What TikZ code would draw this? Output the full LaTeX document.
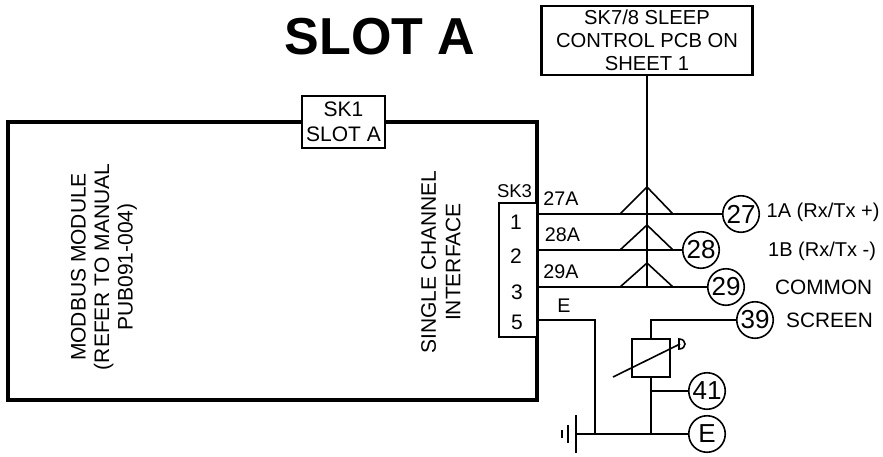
\documentclass[tikz,border=0pt]{standalone}
\usepackage{fontspec}
\setmainfont{Liberation Sans}
\begin{document}
\begin{tikzpicture}[x=1pt,y=-1pt,
  thick line/.style={line width=3.2pt},
  termbox/.style={draw,line width=1.5pt,fill=white,inner sep=0pt,align=center},
  wire/.style={line width=1.6pt},
  callout/.style={draw,circle,line width=1.6pt,fill=white,minimum size=36.5pt,inner sep=0pt,font=\fontsize{26}{26}\selectfont},
  lbl/.style={inner sep=0pt,font=\fontsize{19.7}{21}\selectfont},
  pin/.style={inner sep=0pt,font=\fontsize{21}{21}\selectfont},
  sidelbl/.style={inner sep=0pt,font=\fontsize{20}{21}\selectfont,anchor=west},
  sidecap/.style={inner sep=0pt,font=\fontsize{20.8}{21}\selectfont,anchor=west},
  vlbl/.style={inner sep=0pt,rotate=90,align=center}]
\useasboundingbox (0,0) rectangle (883,456);
\draw[thick line,fill=white] (8,122) rectangle (537,400);
\node[termbox,minimum width=83pt,minimum height=52pt,font=\fontsize{21}{25}\selectfont] (sk1) at (343.5,122) {SK1\\SLOT A};
\node[inner sep=0pt,font=\fontsize{52}{52}\selectfont\bfseries] (title) at (380,37) {SLOT A};
\node[draw,line width=2.2pt,minimum width=211pt,minimum height=69pt,inner sep=0pt,align=center,font=\fontsize{20.2}{23.2}\selectfont] (pcb) at (647,40.5) {SK7/8 SLEEP\\CONTROL PCB ON\\SHEET 1};
\node[vlbl,font=\fontsize{21}{23.5}\selectfont] (modbus) at (104,267) {MODBUS MODULE\\(REFER TO MANUAL\\PUB091-004)};
\node[vlbl,font=\fontsize{21}{24.5}\selectfont] (sci) at (441,262) {SINGLE CHANNEL\\INTERFACE};
\node[termbox,minimum width=38pt,minimum height=134pt] (sk3) at (518,270) {};
\node[lbl,font=\fontsize{18.5}{21}\selectfont] (sk3t) at (514.5,191) {SK3};
\node[pin] (p1) at (516,222) {1};
\node[pin] (p2) at (516,256) {2};
\node[pin] (p3) at (517,292) {3};
\node[pin] (p5) at (517,322) {5};
\coordinate (w1) at (537,214);
\coordinate (w2) at (537,250);
\coordinate (w3) at (537,287);
\coordinate (w5) at (537,320);
\node[lbl] (l27) at (561,199) {27A};
\node[lbl] (l28) at (562.5,235) {28A};
\node[lbl] (l29) at (561,272) {29A};
\node[lbl] (le) at (564,306) {E};
\node[callout] (c27) at (741,214) {27};
\node[callout] (c28) at (701,250) {28};
\node[callout] (c29) at (726,287) {29};
\node[callout] (c39) at (755,320) {39};
\node[callout] (c41) at (707,391) {41};
\node[callout] (ce) at (707,434) {E};
\draw[wire] (w1) -- (c27);
\draw[wire] (w2) -- (c28);
\draw[wire] (w3) -- (c29);
\coordinate (t3) at (647,287);
\draw[wire] (pcb.south -| t3) -- (t3);
\foreach \a/\b in {187/214,225/250,263/287}
  \draw[wire,line join=miter] (620,\b) -- (647,\a) -- (673,\b);
\coordinate (g0) at (576,434);
\coordinate (gj) at (595,434);
\coordinate (rj) at (651,434);
\draw[wire] (w5) -| (gj);
\draw[wire] (g0) -- (ce);
\draw[wire] (576,415) -- (576,453);
\draw[wire] (568,425) -- (568,443);
\draw[wire] (562,430) -- (562,438);
\node[termbox,minimum width=38pt,minimum height=38pt] (rv) at (651,358) {};
\draw[wire] (c39) -| (rv.north);
\draw[wire] (rv.south) -- (rj);
\draw[wire] (651,391) -- (c41);
\draw[wire] (613,377) -- (680,344);
\draw[wire] (679,339) .. controls (687,339) and (687,349) .. (679,349) -- cycle;
\node[sidelbl] (n1) at (766.5,212) {1A (Rx/Tx +)};
\node[sidelbl] (n2) at (768,251) {1B (Rx/Tx -)};
\node[sidecap] (n3) at (775,287) {COMMON};
\node[sidecap] (n4) at (786,320) {SCREEN};
\end{tikzpicture}
\end{document}
